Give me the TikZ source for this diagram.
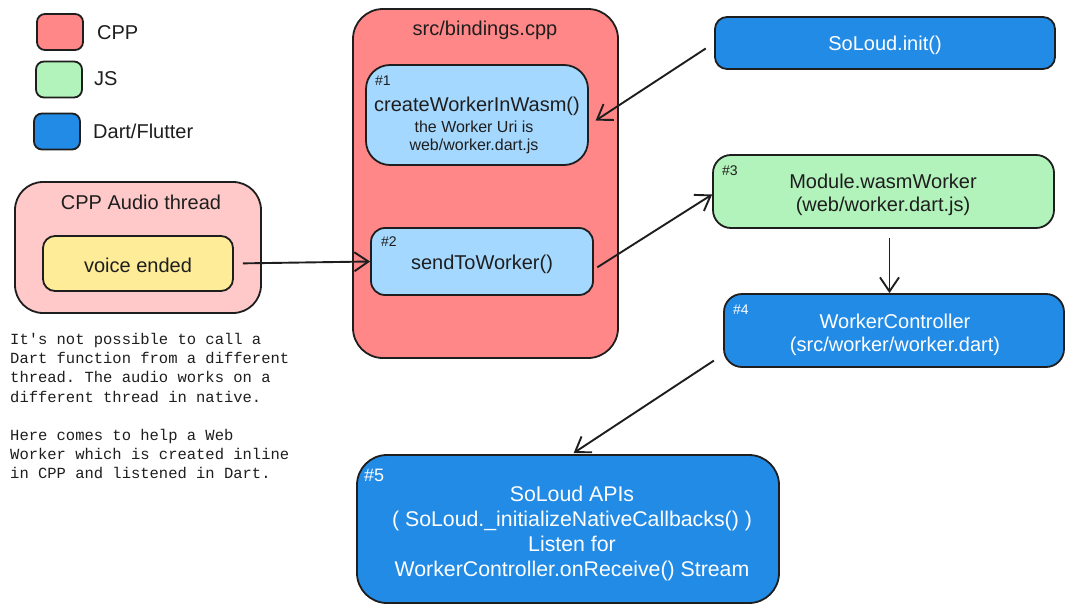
\documentclass[tikz,border=0pt]{standalone}
\usepackage{fontspec}
\setmainfont{Liberation Sans}
\setmonofont{Liberation Mono}
\usetikzlibrary{arrows.meta}
\definecolor{ink}{HTML}{1E1E1E}
\definecolor{cpp}{HTML}{FF8787}
\definecolor{js}{HTML}{B2F2BB}
\definecolor{dart}{HTML}{228BE6}
\definecolor{fnblue}{HTML}{A5D8FF}
\definecolor{thread}{HTML}{FFC9C9}
\definecolor{event}{HTML}{FFEC99}

\begin{document}
\begin{tikzpicture}[
  x=1pt, y=-1pt,
  font=\fontsize{20}{23}\selectfont, text=ink,
  box/.style={draw=ink, line width=1.8pt, align=center, inner sep=0pt},
  swatch/.style={box, minimum width=46pt, minimum height=36pt, rounded corners=8pt},
  cppbox/.style={box, fill=cpp},
  fnbox/.style={box, fill=fnblue},
  jsbox/.style={box, fill=js},
  dartbox/.style={box, fill=dart},
  label/.style={align=center, inner sep=0pt},
  darttext/.style={label, text=white},
  tag/.style={anchor=west, inner sep=0pt, font=\fontsize{14}{16}\selectfont},
  small/.style={label, font=\fontsize{16}{18}\selectfont},
  arrow/.style={draw=ink, line width=1.9pt, -{Straight Barb[length=14pt, width=19pt]}},
  remark/.style={font=\fontsize{15.5}{19.2}\selectfont\ttfamily, align=left, inner sep=0pt}
]
\path[use as bounding box, fill=white] (0,0) rectangle (1074,613);

% Legend: one swatch per language.
\node[swatch, fill=cpp] (legcpp) at (60,32) {};
\node[anchor=west, inner sep=0pt] (legcpptext) at (97,33) {CPP};
\node[swatch, fill=js] (legjs) at (59,79.5) {};
\node[anchor=west, inner sep=0pt] (legjstext) at (94,79) {JS};
\node[swatch, fill=dart] (legdart) at (57,131.5) {};
\node[anchor=west, inner sep=0pt] (legdarttext) at (93,131) {Dart/Flutter};

% Native side: the audio thread cannot call Dart directly.
\node[box, fill=thread, minimum width=246pt, minimum height=131pt, rounded corners=28pt]
  (thread) at (138,247.5) {};
\node[label] (threadtitle) at (141,202) {CPP Audio thread};
\node[box, fill=event, minimum width=190pt, minimum height=55pt, rounded corners=12pt]
  (voice) at (138,263.5) {};
\node[label] (voicetext) at (138,265) {voice ended};
\node[remark, anchor=north west] (note) at (10,333)
  {It's not possible to call a\\
   Dart function from a different\\
   thread. The audio works on a\\
   different thread in native.\\[19.2pt]
   Here comes to help a Web\\
   Worker which is created inline\\
   in CPP and listened in Dart.};

% The bindings file holding both C++ functions.
\node[cppbox, minimum width=265pt, minimum height=349pt, rounded corners=30pt]
  (bindings) at (485.5,183.5) {};
\node[label] (bindingstitle) at (485,30) {src/bindings.cpp};
\node[fnbox, minimum width=222pt, minimum height=100pt, rounded corners=24pt]
  (create) at (477,115) {};
\node[tag] (createtag) at (375,81) {\#1};
\node[label] (createname) at (477,106) {createWorkerInWasm()};
\node[small] (createnote) at (474,137) {the Worker Uri is\\web/worker.dart.js};
\node[fnbox, minimum width=222pt, minimum height=67pt, rounded corners=14pt]
  (send) at (482,261.5) {};
\node[label] (sendtext) at (482,264) {sendToWorker()};
\node[tag] (sendtag) at (381,242) {\#2};

% Worker and Dart side.
\node[dartbox, minimum width=340pt, minimum height=52pt, rounded corners=12pt]
  (init) at (885,43) {};
\node[darttext] (inittext) at (885,45) {SoLoud.init()};
\node[jsbox, minimum width=341pt, minimum height=73pt, rounded corners=18pt]
  (module) at (883.5,191.5) {};
\node[label] (moduletext) at (883,194.5) {Module.wasmWorker\\(web/worker.dart.js)};
\node[tag] (moduletag) at (722,171) {\#3};
\node[dartbox, minimum width=340pt, minimum height=73pt, rounded corners=18pt]
  (worker) at (894,330.5) {};
\node[darttext] (workertext) at (895,334.5) {WorkerController\\(src/worker/worker.dart)};
\node[tag, text=white] (workertag) at (733,310) {\#4};
\node[dartbox, minimum width=422pt, minimum height=148pt, rounded corners=30pt]
  (apis) at (568,529) {};
\node[darttext, font=\fontsize{21.3}{25}\selectfont] (apistext) at (572,533)
  {SoLoud APIs\\( SoLoud.\_initializeNativeCallbacks() )\\Listen for\\
   WorkerController.onReceive() Stream};
\node[tag, text=white, font=\fontsize{18}{20}\selectfont] (apistag) at (364,475) {\#5};

% Message path.
\draw[arrow, shorten <=9pt] (voice.east) -- (send.west);
\draw[arrow, shorten <=10pt, shorten >=8pt] (init.west) -- ([yshift=-10pt]create.east);
\draw[arrow, shorten <=4pt] ([yshift=-8pt]send.east) -- ([yshift=-3pt]module.west);
\draw[arrow, shorten <=9pt] ([xshift=6pt]module.south) -- ([xshift=6pt]module.south |- worker.north);
\draw[arrow, shorten <=11pt, shorten >=2pt] ([yshift=-24pt]worker.west) -- ([xshift=4pt]apis.north);
\end{tikzpicture}
\end{document}
